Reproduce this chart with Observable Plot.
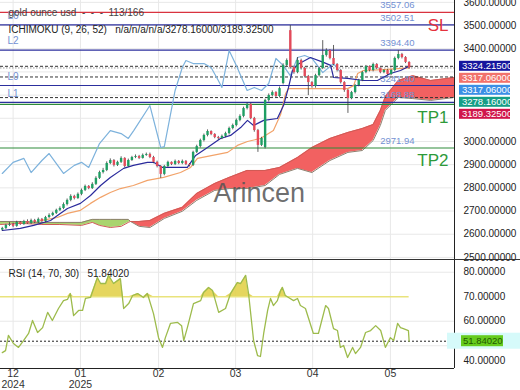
<!DOCTYPE html>
<html><head><meta charset="utf-8">
<script src="https://cdn.jsdelivr.net/npm/d3@7"></script>
<script src="https://cdn.jsdelivr.net/npm/@observablehq/plot@0.6"></script>
<style>
body{margin:0;background:#fff;}
#wrap{position:relative;width:520px;height:390px;overflow:hidden;font-family:"Liberation Sans",Arial,sans-serif;}
#wrap svg{display:block;position:absolute;left:0;}
.hl{position:absolute;background:#333;}
</style></head><body><div id="wrap"></div>
<script>
// ---------- data ----------
const openP = [2618,2625,2638,2642,2634,2651,2642,2655,2647,2659,
 2651,2664,2655,2672,2681,2690,2703,2711,2728,2746,
 2763,2754,2772,2789,2806,2797,2815,2841,2866,2875,
 2905,2918,2897,2910,2927,2892,2918,2931,2935,2927,
 2940,2944,2931,2910,2892,2858,2892,2910,2901,2914,
 2905,2914,2901,2897,2953,2978,3004,3026,3043,3030,
 3017,3013,3022,3034,3056,3069,3091,3108,3142,3160,
 3099,3047,2983,2974,3177,3198,3211,3194,3250,3328,
 3478,3319,3297,3349,3315,3280,3254,3237,3284,3315,
 3371,3392,3358,3332,3306,3254,3220,3185,3211,3241,
 3263,3297,3323,3306,3332,3315,3297,3306,3289,3306,
 3358,3375,3362,3341];
const highP = [2630,2643,2650,2648,2656,2655,2660,2662,2665,2664,
 2670,2668,2677,2688,2695,2708,2718,2735,2752,2770,
 2768,2778,2795,2812,2810,2822,2848,2872,2884,2912,
 2925,2922,2915,2934,2930,2924,2936,2942,2940,2946,
 2950,2950,2936,2915,2896,2897,2915,2912,2920,2918,
 2920,2918,2905,2958,2984,3010,3032,3050,3046,3034,
 3022,3028,3040,3062,3075,3097,3115,3148,3167,3165,
 3104,3052,3018,3182,3205,3218,3215,3235,3335,3356,
 3500,3325,3362,3355,3320,3285,3258,3290,3320,3435,
 3400,3396,3414,3336,3310,3258,3224,3216,3246,3268,
 3302,3328,3326,3338,3336,3318,3310,3310,3310,3364,
 3392,3380,3366,3344];
const lowP = [2614,2620,2633,2628,2630,2638,2638,2643,2642,2646,
 2646,2650,2650,2668,2676,2685,2698,2706,2722,2740,
 2748,2750,2766,2784,2792,2793,2810,2836,2860,2870,
 2900,2890,2892,2905,2886,2888,2914,2926,2922,2924,
 2936,2926,2904,2886,2841,2852,2886,2896,2896,2900,
 2900,2896,2890,2892,2948,2972,2998,3020,3025,3012,
 3006,3008,3016,3028,3050,3063,3085,3102,3136,3094,
 3040,2953,2978,2968,3170,3192,3188,3188,3244,3322,
 3312,3290,3292,3308,3274,3198,3230,3230,3278,3310,
 3364,3352,3326,3300,3248,3212,3121,3180,3205,3236,
 3258,3292,3300,3300,3310,3292,3292,3284,3284,3300,
 3352,3356,3336,3312];
const closeP = [2625,2638,2642,2634,2651,2642,2655,2647,2659,2651,
 2664,2655,2672,2681,2690,2703,2711,2728,2746,2763,
 2754,2772,2789,2806,2797,2815,2841,2866,2875,2905,
 2918,2897,2910,2927,2892,2918,2931,2935,2927,2940,
 2944,2931,2910,2892,2858,2892,2910,2901,2914,2905,
 2914,2901,2897,2953,2978,3004,3026,3043,3030,3017,
 3013,3022,3034,3056,3069,3091,3108,3142,3160,3099,
 3047,2983,3013,3177,3198,3211,3194,3228,3328,3349,
 3319,3297,3349,3315,3280,3254,3237,3284,3315,3371,
 3392,3358,3332,3306,3254,3220,3185,3211,3241,3263,
 3297,3323,3306,3332,3315,3297,3306,3289,3306,3358,
 3375,3362,3341,3317.06];

const tenkanIdx = [0,5,8.7,13.4,16.2,18.1,21.7,24.5,27.3,30,33.7,36.4,40.3,42,44.5,51.4,53.7,57,60.6,63.4,66.2,68.1,69.8,72.6,76.4,78.1,79.5,80.6,82,85.6,89.2,91.2,92,95.9,100.3,104.2,107.8,110.6,113];
const tenkanVal = [2616,2625,2638,2659,2690,2711,2733,2767,2810,2845,2884,2897,2910,2910,2888,2888,2940,2974,3013,3026,3060,3091,3069,3091,3099,3155,3233,3306,3332,3362,3341,3328,3276,3272,3263,3263,3293,3306,3324.215];

const kijunIdx = [10.6,15.3,18.1,21.7,24.5,27.3,30,32.8,36.4,40.3,44.8,49.5,52.3,54.2,62.6,65.3,68.1,71.7,75.3,77.3,78.7,79.5,95.9,97.6,98.7,100.3,105.9,113];
const kijunVal = [2659,2672,2690,2703,2733,2759,2780,2797,2810,2832,2845,2866,2888,2927,2953,2983,3000,3013,3047,3116,3207,3228,3228,3241,3293,3306,3310,3317.06];

const chikouIdx = [0,3,6,8,11,13,17,20,22,24,27,30,33,35,36.5,41,44,45,48,50,51,53,56,58,60,61,63,65,68,70,72,74,76,78,80,82,84,86,88,89,92,94];
const chikouVal = [2862,2910,2927,2866,2918,2948,2862,2897,2910,2888,2991,3047,3034,3013,3047,3155,2974,2978,3220,3319,3349,3336,3336,3319,3263,3233,3392,3328,3220,3233,3220,3250,3358,3328,3284,3362,3371,3358,3319,3297,3336,3297];

const cloudIdx = [-0.5,5,11,16,22,25,27,30,33,35,35.6,38,41,45,50,54,59,63,68,73,77,82,86,91,96,100,103,105,106.4,110,114,119,125.6];
const spanA = [2642,2647,2642,2642,2638,2651,2638,2629,2634,2651,2655,2655,2659,2690,2716,2776,2819,2845,2875,2875,2888,2931,2974,3013,3039,3056,3073,3134,3194,3263,3284,3263,3276];
const spanB = [2655,2655,2651,2651,2651,2664,2664,2664,2664,2664,2655,2634,2629,2668,2699,2746,2789,2797,2797,2810,2858,2884,2866,2918,2953,2961,3004,3069,3134,3190,3185,3177,3190];

const rsiIdx = [0,0.9,1.7,3.1,4.5,5.9,7.3,8.4,9.8,11.2,12.6,13.9,15.6,17,18.1,18.9,19.8,21.2,22.3,23.1,24.5,26.4,27.3,28.7,29.5,30.9,32.8,33.7,35.1,36.2,37.6,39.2,40.3,42,43.4,44.5,45.3,46.7,48.7,49.8,50.4,51.4,53.1,55.1,55.9,57.3,58.4,60.1,62,63.4,65.3,66.2,67.6,68.4,69.8,70.9,71.7,72.6,73.7,74.5,75.3,76.4,77.3,77.8,78.6,79.5,80.9,82,82.8,84.2,86.4,87.8,89.8,90.6,92,93.1,93.9,94.8,95.9,97.3,98.1,99.5,100.9,102.3,103.7,105.1,106.4,107.8,108.7,109.8,110.6,111.4,112.8,113];
const rsiVal = [47.2,48.0,54.2,50.9,49.3,52.1,55.0,60.3,55.4,57.4,63.6,60.3,65.2,68.4,68.9,71.3,62.3,64.4,64.4,69.3,69.7,77.8,75.4,75.4,78.7,75.4,77.4,65.2,67.2,70.5,71.3,69.7,71.3,63.1,53.3,49.3,53.3,59.1,59.5,58.2,52.1,57.4,67.2,68.4,71.7,73.8,72.5,63.6,65.2,71.3,75.8,75.4,78.7,71.3,52.1,46.0,45.6,55.0,64.4,69.3,66.4,68.4,72.5,73.8,70.5,69.7,68.4,69.3,66.4,65.2,55.0,55.0,66.4,65.2,57.0,56.2,49.3,50.1,45.2,49.3,46.8,49.3,55.4,56.2,58.2,56.2,49.3,53.3,52.1,59.1,57.4,57.0,56.2,51.84];

const levelVals   = [3557.06, 3502.51, 3394.40, 3241.40, 3168.88, 3160.00, 2971.94];
const levelColors = ["#d9333f","#2c2f9e","#2c2f9e","#2c2f9e","#2c2f9e","#2e8b3a","#2e8b3a"];
const levelLabels = ["3557.06","3502.51","3394.40","3241.40","3168.88","","2971.94"];
const levelTags   = ["","L6","L2","L0","L1","",""];

const lastNames  = ["tenkan","kijun","chikou","spanA","spanB"];
const lastVals   = [3324.215, 3317.06, 3317.06, 3278.16, 3189.325];
const lastColors = ["#16169e","#f2726b","#3b8fe6","#159e86","#d0154b"];
const lastPrice = 3317.06;
const rsiLast = 51.8402;

const priceTicks = [2500,2600,2700,2800,2900,3000,3100,3200,3300,3400,3500,3600];
const rsiTicks = [60,70,80];
const monthIdx = [3,21.7,43.4,64.8,86.2,107.8];
const monthLabels = ["12\n2024","01\n2025","02","03","04","05"];

// ---------- build ----------
const FONT = "Liberation Sans, Arial, sans-serif";
const W = 520, H1 = 259, xDomain = [-0.5, 125.6], yDomain = [2491, 3608];
const bars = closeP.map((c, i) => ({i, o: openP[i], h: highP[i], l: lowP[i], c, up: c >= openP[i]}));
const zip = (a, b) => a.map((i, k) => ({i, v: b[k]}));
const tenkan = zip(tenkanIdx, tenkanVal), kijun = zip(kijunIdx, kijunVal), chikou = zip(chikouIdx, chikouVal);
const cloud = cloudIdx.map((i, k) => ({i, a: spanA[k], b: spanB[k]}));
const rsi = zip(rsiIdx, rsiVal);
const levels = levelVals.map((v, k) => ({v, color: levelColors[k], label: levelLabels[k], tag: levelTags[k]}));
const months = monthIdx.map((i, k) => ({i, label: monthLabels[k]}));
const lbl = "#7391d3";

// value tags on the price axis, stacked so they do not overlap
const yPre = Plot.scale({y: {domain: yDomain, range: [H1, 0]}});
let prev = -Infinity;
const tags = lastVals.map((v, k) => ({v, k})).sort((a, b) => b.v - a.v || a.k - b.k).map(d => {
  const py = Math.max(yPre.apply(d.v), prev + 12); prev = py;
  return {...d, py, color: lastColors[d.k]};
});
const shownTicks = priceTicks.filter(t => tags.every(g => Math.abs(yPre.apply(t) - g.py) > 9));

const main = Plot.plot({
  width: W, height: H1, marginTop: 0, marginBottom: 0, marginLeft: 0, marginRight: 66,
  x: {domain: xDomain, axis: null},
  y: {domain: yDomain, axis: null},
  style: {fontFamily: FONT, fontSize: "10px", background: "transparent", overflow: "visible"},
  marks: [
    Plot.ruleY(priceTicks, {stroke: "#e8e8e8"}),
    Plot.ruleX(monthIdx, {stroke: "#e8e8e8"}),
    Plot.areaY(cloud.filter(d => d.b >= d.a), {x: "i", y1: "a", y2: "b", fill: "#a9d46e"}),
    Plot.areaY(cloud.filter(d => d.a >= d.b), {x: "i", y1: "a", y2: "b", fill: "#f26161"}),
    Plot.line(cloud, {x: "i", y: "b", stroke: "#8d7f6e", strokeWidth: 1}),
    Plot.line(cloud, {x: "i", y: "a", stroke: "#cf5a55", strokeWidth: 1}),
    Plot.text(["Arincen"], {frameAnchor: "top-left", dx: 213, dy: 193, textAnchor: "start", lineAnchor: "middle", fontSize: 27, fill: "#555", fillOpacity: 0.85}),
    Plot.ruleY(levels, {y: "v", stroke: "color", strokeWidth: 1.2}),
    Plot.ruleY(lastVals.filter((v, k) => k !== 1 && k !== 2), {stroke: "#333", strokeDasharray: "3,2"}),
    Plot.ruleY([lastPrice], {stroke: "#999", strokeDasharray: "1.5,1.5"}),
    Plot.text(levels.filter(d => d.label), {y: "v", text: "label", frameAnchor: "right", dx: -40, dy: -7, textAnchor: "end", fill: lbl, fontSize: 9.5}),
    Plot.text(levels.filter(d => d.tag), {y: "v", text: "tag", frameAnchor: "left", dx: 7, dy: -9, textAnchor: "start", fill: lbl, fontSize: 10}),
    Plot.text(levels.filter(d => d.label === "3502.51"), {y: "v", text: () => "SL", frameAnchor: "right", dx: -6, dy: 1, textAnchor: "end", fill: "#e5323d", fontSize: 17}),
    Plot.text(levels.filter(d => d.v === 3160), {y: "v", text: () => "TP1", frameAnchor: "right", dx: -6, dy: 13, textAnchor: "end", fill: "#2e9a3a", fontSize: 17}),
    Plot.text(levels.filter(d => d.label === "2971.94"), {y: "v", text: () => "TP2", frameAnchor: "right", dx: -6, dy: 13, textAnchor: "end", fill: "#2e9a3a", fontSize: 17}),
    Plot.line(chikou, {x: "i", y: "v", stroke: "#7db2dc", strokeWidth: 1.2}),
    Plot.line(kijun, {x: "i", y: "v", stroke: "#f2a36a", strokeWidth: 1.2}),
    Plot.line(tenkan, {x: "i", y: "v", stroke: "#2a2a9c", strokeWidth: 1.2}),
    Plot.ruleX(bars, {x: "i", y1: "l", y2: "h", stroke: "#3a3a3a", strokeWidth: 0.8}),
    Plot.ruleX(bars, {x: "i", y1: "o", y2: "c", stroke: d => d.up ? "#1f9e63" : "#e34a5a", strokeWidth: 2.4}),
    Plot.text(["gold ounce usd  -  -  -  113/166"], {frameAnchor: "top-left", dx: 8, dy: 12, textAnchor: "start", lineAnchor: "middle", fill: "#444", fontSize: 10}),
    Plot.text(["ICHIMOKU (9, 26, 52)   n/a/n/a/n/a/3278.16000/3189.32500"], {frameAnchor: "top-left", dx: 8, dy: 29, textAnchor: "start", lineAnchor: "middle", fill: "#222", fontSize: 10}),
    Plot.text(shownTicks, {y: d => d, text: d => d.toFixed(5), frameAnchor: "right", dx: 9, textAnchor: "start", fill: "#222", fontSize: 10}),
    Plot.ruleX([xDomain[1]], {stroke: "#222"})
  ]
});

const rsiPlot = Plot.plot({
  width: W, height: 131, marginTop: 0, marginBottom: 22, marginLeft: 0, marginRight: 66,
  x: {domain: xDomain, axis: null},
  y: {domain: [40.7, 85.2], axis: null},
  style: {fontFamily: FONT, fontSize: "10px", background: "transparent", overflow: "visible"},
  marks: [
    Plot.ruleY([50, 60, 80], {stroke: "#e8e8e8"}),
    Plot.ruleX(monthIdx, {stroke: "#e8e8e8"}),
    Plot.areaY(rsi, {x: "i", y1: 70, y2: d => Math.max(d.v, 70), fill: "#e2d24c", fillOpacity: 0.9}),
    Plot.ruleY([70], {x1: xDomain[0], x2: bars.length - 1, stroke: "#e9e37c", strokeWidth: 1.5}),
    Plot.ruleY([rsiLast], {stroke: "#222", strokeDasharray: "2,2"}),
    Plot.line(rsi, {x: "i", y: "v", stroke: "#9dbb4c", strokeWidth: 1.3}),
    Plot.text(rsiTicks, {y: d => d, text: d => d.toFixed(5), frameAnchor: "right", dx: 9, textAnchor: "start", fill: "#222", fontSize: 10}),
    Plot.text([40], {y: d => d, text: d => d.toFixed(5), frameAnchor: "right", dx: 9, dy: -9, textAnchor: "start", fill: "#222", fontSize: 10}),
    Plot.text(months, {x: "i", text: "label", frameAnchor: "bottom", dy: 1, lineAnchor: "top", lineHeight: 1.05, fill: "#333", fontSize: 10.5}),
    Plot.text(["RSI (14, 70, 30)   51.84020"], {frameAnchor: "top-left", dx: 8, dy: 14, textAnchor: "start", lineAnchor: "middle", fill: "#222", fontSize: 10}),
    Plot.ruleX([xDomain[1]], {stroke: "#222"}),
    Plot.ruleY([40.7], {stroke: "#222"})
  ]
});

const wrap = document.getElementById("wrap");
main.style.top = "0px";
rsiPlot.style.top = H1 + "px";
wrap.appendChild(main);
wrap.appendChild(rsiPlot);

const gm = d3.select(main).append("g").attr("text-anchor", "start");
tags.forEach(d => {
  gm.append("rect").attr("x", 459).attr("y", d.py - 5).attr("width", 51).attr("height", 10).attr("fill", d.color);
  gm.append("text").attr("x", 462).attr("y", d.py).attr("dy", "0.35em").attr("text-anchor", "start").attr("fill", "#fff").attr("font-size", 9.5).attr("font-family", FONT).text(d.v.toFixed(5));
});

// RSI last-value tag
const yr = rsiPlot.scale("y");
const gr = d3.select(rsiPlot).append("g").attr("text-anchor", "start");
const ry = yr.apply(rsiLast);
gr.append("rect").attr("x", 447).attr("y", ry - 8).attr("width", 73).attr("height", 16).attr("fill", "#d6fafa");
gr.append("rect").attr("x", 461).attr("y", ry - 5.5).attr("width", 42).attr("height", 11).attr("fill", "#66cc1e");
gr.append("text").attr("x", 463).attr("y", ry).attr("dy", "0.35em").attr("text-anchor", "start").attr("fill", "#1f5a00").attr("font-size", 9.5).attr("font-family", FONT).text(rsiLast.toFixed(5));

// panel separator
const sep = document.createElement("div");
sep.className = "hl";
sep.style.cssText = "left:0;top:259px;width:520px;height:1px;";
wrap.appendChild(sep);
</script>
</body></html>
